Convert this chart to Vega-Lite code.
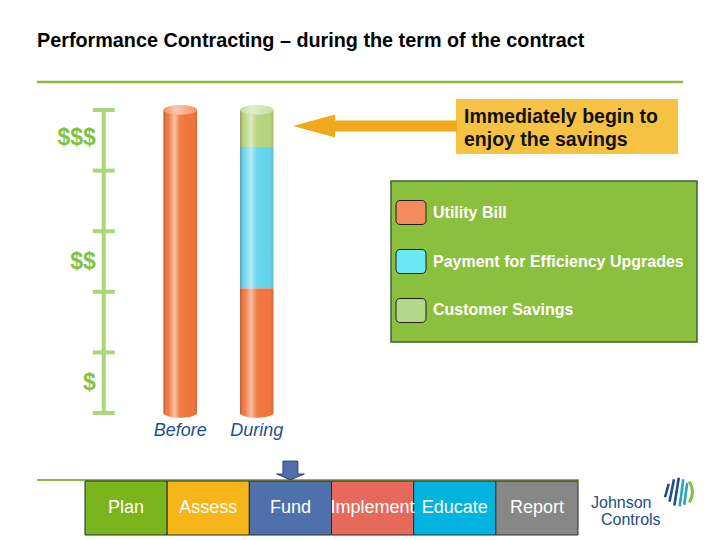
{
  "$schema": "https://vega.github.io/schema/vega-lite/v6.json",
  "width": 720,
  "height": 540,
  "padding": 0,
  "autosize": "none",
  "background": "white",
  "config": {"view": {"stroke": null}, "font": "Liberation Sans"},
  "layer": [
    {
      "layer": [
        {
          "data": {"values": [{"label": "Performance Contracting – during the term of the contract"}]},
          "mark": {"type": "text", "align": "left", "baseline": "middle", "fontSize": 19.8, "fontWeight": "bold", "color": "#000000"},
          "encoding": {
            "x": {"datum": 37, "type": "quantitative", "scale": {"domain": [0, 720], "range": [0, 720], "nice": false, "zero": false}, "axis": null},
            "y": {"datum": 41, "type": "quantitative", "scale": {"domain": [0, 540], "range": [0, 540], "nice": false, "zero": false}, "axis": null},
            "text": {"field": "label"}
          }
        },
        {
          "data": {"values": [{"item": "title rule"}]},
          "mark": {"type": "rule", "color": "#8db83d", "strokeWidth": 2.5},
          "encoding": {
            "x": {"datum": 37, "type": "quantitative", "scale": {"domain": [0, 720], "range": [0, 720], "nice": false, "zero": false}, "axis": null},
            "x2": {"datum": 683},
            "y": {"datum": 82, "type": "quantitative", "scale": {"domain": [0, 540], "range": [0, 540], "nice": false, "zero": false}, "axis": null}
          }
        },
        {
          "data": {"values": [{"item": "process rule"}]},
          "mark": {"type": "rule", "color": "#8db83d", "strokeWidth": 2},
          "encoding": {
            "x": {"datum": 37, "type": "quantitative", "scale": {"domain": [0, 720], "range": [0, 720], "nice": false, "zero": false}, "axis": null},
            "x2": {"datum": 579},
            "y": {"datum": 480, "type": "quantitative", "scale": {"domain": [0, 540], "range": [0, 540], "nice": false, "zero": false}, "axis": null}
          }
        },
        {
          "data": {"values": [{"item": "legend frame"}]},
          "mark": {"type": "rect", "fill": "#8bbf3e", "stroke": "#3f5f3a", "strokeWidth": 1.5},
          "encoding": {
            "x": {"datum": 391, "type": "quantitative", "scale": {"domain": [0, 720], "range": [0, 720], "nice": false, "zero": false}, "axis": null},
            "x2": {"datum": 697},
            "y": {"datum": 181, "type": "quantitative", "scale": {"domain": [0, 540], "range": [0, 540], "nice": false, "zero": false}, "axis": null},
            "y2": {"datum": 342}
          }
        },
        {
          "data": {"values": [{"item": "callout box"}]},
          "mark": {"type": "rect", "fill": "#f5c244"},
          "encoding": {
            "x": {"datum": 456, "type": "quantitative", "scale": {"domain": [0, 720], "range": [0, 720], "nice": false, "zero": false}, "axis": null},
            "x2": {"datum": 678},
            "y": {"datum": 99, "type": "quantitative", "scale": {"domain": [0, 540], "range": [0, 540], "nice": false, "zero": false}, "axis": null},
            "y2": {"datum": 154}
          }
        },
        {
          "data": {"values": [{"label": "Immediately begin to\nenjoy the savings"}]},
          "mark": {"type": "text", "align": "left", "baseline": "middle", "fontSize": 19.5, "fontWeight": "bold", "color": "#111111", "lineBreak": "\n", "lineHeight": 23},
          "encoding": {
            "x": {"datum": 464, "type": "quantitative", "scale": {"domain": [0, 720], "range": [0, 720], "nice": false, "zero": false}, "axis": null},
            "y": {"datum": 117, "type": "quantitative", "scale": {"domain": [0, 540], "range": [0, 540], "nice": false, "zero": false}, "axis": null},
            "text": {"field": "label"}
          }
        },
        {
          "data": {"values": [{"item": "arrow shaft"}]},
          "mark": {"type": "rule", "color": "#f0a81c", "strokeWidth": 11},
          "encoding": {
            "x": {"datum": 330, "type": "quantitative", "scale": {"domain": [0, 720], "range": [0, 720], "nice": false, "zero": false}, "axis": null},
            "x2": {"datum": 457},
            "y": {"datum": 126, "type": "quantitative", "scale": {"domain": [0, 540], "range": [0, 540], "nice": false, "zero": false}, "axis": null}
          }
        },
        {
          "data": {"values": [{"item": "arrow head"}]},
          "mark": {"type": "point", "shape": "M-1,0 L1,-0.55 L1,0.55 Z", "size": 1764, "filled": true, "color": "#f0a81c", "opacity": 1},
          "encoding": {
            "x": {"datum": 314, "type": "quantitative", "scale": {"domain": [0, 720], "range": [0, 720], "nice": false, "zero": false}, "axis": null},
            "y": {"datum": 126, "type": "quantitative", "scale": {"domain": [0, 540], "range": [0, 540], "nice": false, "zero": false}, "axis": null}
          }
        },
        {
          "data": {"values": [{"label": "Johnson"}]},
          "mark": {"type": "text", "align": "left", "baseline": "middle", "fontSize": 16, "color": "#1d4e85"},
          "encoding": {
            "x": {"datum": 591, "type": "quantitative", "scale": {"domain": [0, 720], "range": [0, 720], "nice": false, "zero": false}, "axis": null},
            "y": {"datum": 503, "type": "quantitative", "scale": {"domain": [0, 540], "range": [0, 540], "nice": false, "zero": false}, "axis": null},
            "text": {"field": "label"}
          }
        },
        {
          "data": {"values": [{"label": "Controls"}]},
          "mark": {"type": "text", "align": "left", "baseline": "middle", "fontSize": 16, "color": "#1d4e85"},
          "encoding": {
            "x": {"datum": 601, "type": "quantitative", "scale": {"domain": [0, 720], "range": [0, 720], "nice": false, "zero": false}, "axis": null},
            "y": {"datum": 520, "type": "quantitative", "scale": {"domain": [0, 540], "range": [0, 540], "nice": false, "zero": false}, "axis": null},
            "text": {"field": "label"}
          }
        },
        {
          "data": {"values": [{"item": "logo stripes blue"}]},
          "mark": {"type": "point", "shape": "M-1,0.35 L-0.75,-0.55 M-0.7,0.65 L-0.4,-0.85 M-0.38,0.9 L-0.08,-0.95", "size": 900, "filled": false, "stroke": "#1b4f8f", "strokeWidth": 2.6, "opacity": 1},
          "encoding": {
            "x": {"datum": 680, "type": "quantitative", "scale": {"domain": [0, 720], "range": [0, 720], "nice": false, "zero": false}, "axis": null},
            "y": {"datum": 492, "type": "quantitative", "scale": {"domain": [0, 540], "range": [0, 540], "nice": false, "zero": false}, "axis": null}
          }
        },
        {
          "data": {"values": [{"item": "logo stripes teal"}]},
          "mark": {"type": "point", "shape": "M-0.02,0.95 L0.22,-0.85 M0.28,0.85 L0.48,-0.6", "size": 900, "filled": false, "stroke": "#2aa3c0", "strokeWidth": 2.6, "opacity": 1},
          "encoding": {
            "x": {"datum": 680, "type": "quantitative", "scale": {"domain": [0, 720], "range": [0, 720], "nice": false, "zero": false}, "axis": null},
            "y": {"datum": 492, "type": "quantitative", "scale": {"domain": [0, 540], "range": [0, 540], "nice": false, "zero": false}, "axis": null}
          }
        },
        {
          "data": {"values": [{"item": "logo arc green"}]},
          "mark": {"type": "point", "shape": "M0.62,0.7 Q1.05,0 0.62,-0.7", "size": 900, "filled": false, "stroke": "#7cc242", "strokeWidth": 3, "opacity": 1},
          "encoding": {
            "x": {"datum": 680, "type": "quantitative", "scale": {"domain": [0, 720], "range": [0, 720], "nice": false, "zero": false}, "axis": null},
            "y": {"datum": 492, "type": "quantitative", "scale": {"domain": [0, 540], "range": [0, 540], "nice": false, "zero": false}, "axis": null}
          }
        }
      ]
    },
    {
      "layer": [
        {
          "data": {"values": [{"scenario": "Scale", "low": 0, "high": 5}]},
          "mark": {"type": "rule", "color": "#a8d878", "strokeWidth": 4},
          "encoding": {
            "x": {"field": "scenario", "type": "nominal", "scale": {"domain": ["Scale", "Before", "During"], "range": [87, 273.5], "paddingInner": 0.562, "paddingOuter": 0}, "axis": null},
            "y": {"field": "low", "type": "quantitative", "scale": {"domain": [0, 5], "range": [413, 110], "nice": false, "zero": false}, "axis": null},
            "y2": {"field": "high"}
          }
        },
        {
          "data": {"values": [{"scenario": "Scale", "level": 0}, {"scenario": "Scale", "level": 1}, {"scenario": "Scale", "level": 2}, {"scenario": "Scale", "level": 3}, {"scenario": "Scale", "level": 4}, {"scenario": "Scale", "level": 5}]},
          "mark": {"type": "tick", "orient": "horizontal", "size": 22, "thickness": 4, "color": "#a8d878", "opacity": 1},
          "encoding": {
            "x": {"field": "scenario", "type": "nominal", "scale": {"domain": ["Scale", "Before", "During"], "range": [87, 273.5], "paddingInner": 0.562, "paddingOuter": 0}, "axis": null},
            "y": {"field": "level", "type": "quantitative", "scale": {"domain": [0, 5], "range": [413, 110], "nice": false, "zero": false}, "axis": null}
          }
        },
        {
          "data": {"values": [{"scenario": "Scale", "level": 0.5, "label": "$"}, {"scenario": "Scale", "level": 2.5, "label": "$$"}, {"scenario": "Scale", "level": 4.53, "label": "$$$"}]},
          "mark": {"type": "text", "align": "right", "baseline": "middle", "dx": -8, "fontSize": 23, "fontWeight": "bold", "color": "#80c244"},
          "encoding": {
            "x": {"field": "scenario", "type": "nominal", "scale": {"domain": ["Scale", "Before", "During"], "range": [87, 273.5], "paddingInner": 0.562, "paddingOuter": 0}, "axis": null},
            "y": {"field": "level", "type": "quantitative", "scale": {"domain": [0, 5], "range": [413, 110], "nice": false, "zero": false}, "axis": null},
            "text": {"field": "label"}
          }
        },
        {
          "data": {"name": "bars", "values": [
            {"scenario": "Before", "component": "Utility Bill", "low": 0, "high": 5.0},
            {"scenario": "During", "component": "Utility Bill", "low": 0, "high": 2.06},
            {"scenario": "During", "component": "Payment for Efficiency Upgrades", "low": 2.06, "high": 4.39},
            {"scenario": "During", "component": "Customer Savings", "low": 4.39, "high": 5.0}
          ]},
          "layer": [
            {
              "transform": [{"filter": "datum.low == 0"}],
              "mark": {"type": "point", "shape": "M-1,0 A1,0.28 0 1,0 1,0 A1,0.28 0 1,0 -1,0 Z", "size": 1122, "filled": true, "opacity": 1},
              "encoding": {
                "x": {"field": "scenario", "type": "nominal", "scale": {"domain": ["Scale", "Before", "During"], "range": [87, 273.5], "paddingInner": 0.562, "paddingOuter": 0}, "axis": null},
                "y": {"field": "low", "type": "quantitative", "scale": {"domain": [0, 5], "range": [413, 110], "nice": false, "zero": false}, "axis": null},
                "color": {"field": "component", "type": "nominal", "scale": {"domain": ["Utility Bill", "Payment for Efficiency Upgrades", "Customer Savings"], "range": ["#f0743a", "#62d4ee", "#b3d47c"]}, "legend": null}
              }
            },
            {
              "transform": [{"filter": "datum.low == 0"}],
              "mark": {"type": "point", "shape": "M-1,0 A1,0.28 0 1,0 1,0 A1,0.28 0 1,0 -1,0 Z", "size": 1122, "filled": true, "opacity": 1, "fill": {"gradient": "linear", "x1": 0, "x2": 1, "y1": 0, "y2": 0, "stops": [
                {"offset": 0, "color": "rgba(60,20,0,0.30)"},
                {"offset": 0.14, "color": "rgba(255,255,255,0.05)"},
                {"offset": 0.33, "color": "rgba(255,255,255,0.55)"},
                {"offset": 0.5, "color": "rgba(255,255,255,0.06)"},
                {"offset": 0.8, "color": "rgba(255,255,255,0)"},
                {"offset": 1, "color": "rgba(60,20,0,0.12)"}
              ]}},
              "encoding": {
                "x": {"field": "scenario", "type": "nominal", "scale": {"domain": ["Scale", "Before", "During"], "range": [87, 273.5], "paddingInner": 0.562, "paddingOuter": 0}, "axis": null},
                "y": {"field": "low", "type": "quantitative", "scale": {"domain": [0, 5], "range": [413, 110], "nice": false, "zero": false}, "axis": null}
              }
            },
            {
              "mark": {"type": "bar"},
              "encoding": {
                "x": {"field": "scenario", "type": "nominal", "scale": {"domain": ["Scale", "Before", "During"], "range": [87, 273.5], "paddingInner": 0.562, "paddingOuter": 0}, "axis": null},
                "y": {"field": "low", "type": "quantitative", "scale": {"domain": [0, 5], "range": [413, 110], "nice": false, "zero": false}, "axis": null},
                "y2": {"field": "high"},
                "color": {"field": "component", "type": "nominal", "scale": {"domain": ["Utility Bill", "Payment for Efficiency Upgrades", "Customer Savings"], "range": ["#f0743a", "#62d4ee", "#b3d47c"]}, "legend": null}
              }
            },
            {
              "mark": {"type": "bar", "fill": {"gradient": "linear", "x1": 0, "x2": 1, "y1": 0, "y2": 0, "stops": [
                {"offset": 0, "color": "rgba(60,20,0,0.30)"},
                {"offset": 0.14, "color": "rgba(255,255,255,0.05)"},
                {"offset": 0.33, "color": "rgba(255,255,255,0.55)"},
                {"offset": 0.5, "color": "rgba(255,255,255,0.06)"},
                {"offset": 0.8, "color": "rgba(255,255,255,0)"},
                {"offset": 1, "color": "rgba(60,20,0,0.12)"}
              ]}},
              "encoding": {
                "x": {"field": "scenario", "type": "nominal", "scale": {"domain": ["Scale", "Before", "During"], "range": [87, 273.5], "paddingInner": 0.562, "paddingOuter": 0}, "axis": null},
                "y": {"field": "low", "type": "quantitative", "scale": {"domain": [0, 5], "range": [413, 110], "nice": false, "zero": false}, "axis": null},
                "y2": {"field": "high"}
              }
            },
            {
              "transform": [{"filter": "datum.high >= 5"}],
              "mark": {"type": "point", "shape": "M-1,0 A1,0.28 0 1,0 1,0 A1,0.28 0 1,0 -1,0 Z", "size": 1122, "filled": true, "opacity": 1},
              "encoding": {
                "x": {"field": "scenario", "type": "nominal", "scale": {"domain": ["Scale", "Before", "During"], "range": [87, 273.5], "paddingInner": 0.562, "paddingOuter": 0}, "axis": null},
                "y": {"field": "high", "type": "quantitative", "scale": {"domain": [0, 5], "range": [413, 110], "nice": false, "zero": false}, "axis": null},
                "color": {"field": "component", "type": "nominal", "scale": {"domain": ["Utility Bill", "Payment for Efficiency Upgrades", "Customer Savings"], "range": ["#f0743a", "#62d4ee", "#b3d47c"]}, "legend": null}
              }
            },
            {
              "transform": [{"filter": "datum.high >= 5"}],
              "mark": {"type": "point", "shape": "M-1,0 A1,0.28 0 1,0 1,0 A1,0.28 0 1,0 -1,0 Z", "size": 1122, "filled": true, "opacity": 1, "fill": {"gradient": "linear", "x1": 0, "x2": 1, "y1": 0, "y2": 0, "stops": [
                {"offset": 0, "color": "rgba(255,255,255,0.2)"},
                {"offset": 0.35, "color": "rgba(255,255,255,0.6)"},
                {"offset": 1, "color": "rgba(255,255,255,0.25)"}
              ]}},
              "encoding": {
                "x": {"field": "scenario", "type": "nominal", "scale": {"domain": ["Scale", "Before", "During"], "range": [87, 273.5], "paddingInner": 0.562, "paddingOuter": 0}, "axis": null},
                "y": {"field": "high", "type": "quantitative", "scale": {"domain": [0, 5], "range": [413, 110], "nice": false, "zero": false}, "axis": null}
              }
            }
          ]
        },
        {
          "data": {"values": [{"scenario": "Before"}, {"scenario": "During"}]},
          "mark": {"type": "text", "align": "center", "baseline": "middle", "dy": 18, "fontSize": 18, "fontStyle": "italic", "color": "#1f5189"},
          "encoding": {
            "x": {"field": "scenario", "type": "nominal", "scale": {"domain": ["Scale", "Before", "During"], "range": [87, 273.5], "paddingInner": 0.562, "paddingOuter": 0}, "axis": null},
            "y": {"datum": 0, "type": "quantitative", "scale": {"domain": [0, 5], "range": [413, 110], "nice": false, "zero": false}, "axis": null},
            "text": {"field": "scenario"}
          }
        }
      ]
    },
    {
      "data": {"values": [{"component": "Utility Bill"}, {"component": "Payment for Efficiency Upgrades"}, {"component": "Customer Savings"}]},
      "layer": [
        {
          "mark": {"type": "rect", "cornerRadius": 4, "stroke": "#1e1e1e", "strokeWidth": 1},
          "encoding": {
            "x": {"datum": 396, "type": "quantitative", "scale": {"domain": [0, 720], "range": [0, 720], "nice": false, "zero": false}, "axis": null},
            "x2": {"datum": 426},
            "y": {"field": "component", "type": "nominal", "scale": {"domain": ["Utility Bill", "Payment for Efficiency Upgrades", "Customer Savings"], "range": [200.5, 322.5], "paddingInner": 0.51, "paddingOuter": 0}, "axis": null},
            "color": {"field": "component", "type": "nominal", "scale": {"domain": ["Utility Bill", "Payment for Efficiency Upgrades", "Customer Savings"], "range": ["#f58a5c", "#6ae8f4", "#b2d98a"]}, "legend": null}
          }
        },
        {
          "mark": {"type": "text", "align": "left", "baseline": "middle", "fontSize": 16, "fontWeight": "bold", "color": "#ffffff"},
          "encoding": {
            "x": {"datum": 433, "type": "quantitative", "scale": {"domain": [0, 720], "range": [0, 720], "nice": false, "zero": false}, "axis": null},
            "y": {"field": "component", "type": "nominal", "scale": {"domain": ["Utility Bill", "Payment for Efficiency Upgrades", "Customer Savings"], "range": [200.5, 322.5], "paddingInner": 0.51, "paddingOuter": 0}, "axis": null},
            "text": {"field": "component"}
          }
        }
      ]
    },
    {
      "layer": [
        {
          "data": {"values": [{"step": "Plan"}, {"step": "Assess"}, {"step": "Fund"}, {"step": "Implement"}, {"step": "Educate"}, {"step": "Report"}]},
          "layer": [
            {
              "mark": {"type": "rect", "stroke": "#2a2a2a", "strokeWidth": 1},
              "encoding": {
                "x": {"field": "step", "type": "nominal", "scale": {"domain": ["Plan", "Assess", "Fund", "Implement", "Educate", "Report"], "range": [85, 578], "paddingInner": 0, "paddingOuter": 0}, "axis": null},
                "y": {"datum": 481, "type": "quantitative", "scale": {"domain": [0, 540], "range": [0, 540], "nice": false, "zero": false}, "axis": null},
                "y2": {"datum": 535},
                "color": {"field": "step", "type": "nominal", "scale": {"domain": ["Plan", "Assess", "Fund", "Implement", "Educate", "Report"], "range": ["#7ab51d", "#f6b519", "#5070ac", "#e56a5b", "#00b4df", "#878787"]}, "legend": null}
              }
            },
            {
              "mark": {"type": "text", "align": "center", "baseline": "middle", "fontSize": 18, "color": "#ffffff"},
              "encoding": {
                "x": {"field": "step", "type": "nominal", "scale": {"domain": ["Plan", "Assess", "Fund", "Implement", "Educate", "Report"], "range": [85, 578], "paddingInner": 0, "paddingOuter": 0}, "axis": null},
                "y": {"datum": 508, "type": "quantitative", "scale": {"domain": [0, 540], "range": [0, 540], "nice": false, "zero": false}, "axis": null},
                "text": {"field": "step"}
              }
            }
          ]
        },
        {
          "data": {"values": [{"step": "Fund"}]},
          "mark": {"type": "point", "shape": "M-0.5,-0.63 L0.5,-0.63 L0.5,0.23 L0.93,0.23 L0,0.63 L-0.93,0.23 L-0.5,0.23 Z", "size": 900, "filled": true, "fill": "#5070ac", "stroke": "#1f2f50", "strokeWidth": 0.8, "opacity": 1},
          "encoding": {
            "x": {"field": "step", "type": "nominal", "scale": {"domain": ["Plan", "Assess", "Fund", "Implement", "Educate", "Report"], "range": [85, 578], "paddingInner": 0, "paddingOuter": 0}, "axis": null},
            "y": {"datum": 470.5, "type": "quantitative", "scale": {"domain": [0, 540], "range": [0, 540], "nice": false, "zero": false}, "axis": null}
          }
        }
      ]
    }
  ],
  "resolve": {"scale": {"x": "independent", "y": "independent", "color": "independent"}}
}
